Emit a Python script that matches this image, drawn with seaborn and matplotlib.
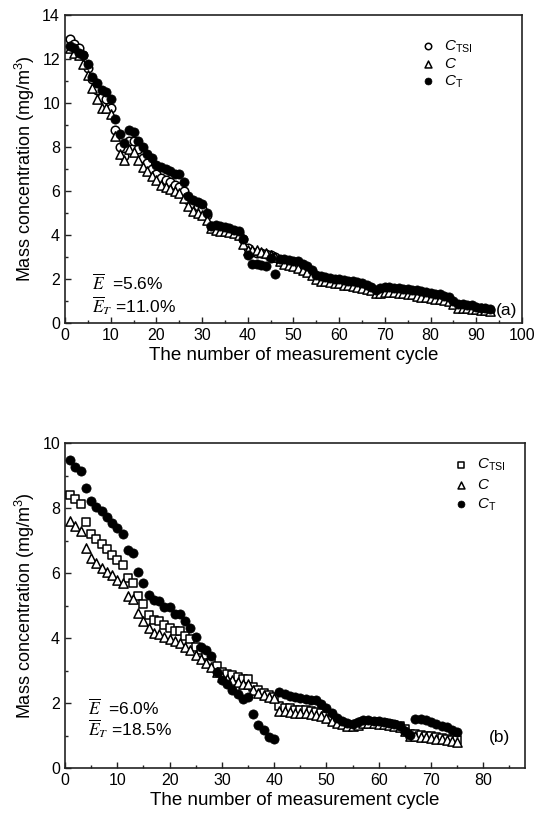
import numpy as np
import pandas as pd
import matplotlib
matplotlib.use("Agg")
import matplotlib.pyplot as plt
from matplotlib.ticker import MultipleLocator
import seaborn as sns

# ---- panel (a) data: 93 measurement cycles ----
cyc_a = list(range(1, 94))
ctsi_a = [12.9, 12.7, 12.5, 12.2, 11.6, 11.1, 10.6, 10.3, 10.2, 9.8,
          8.8, 8.0, 7.6, 8.3, 8.3, 7.9, 7.5, 7.3, 7.0, 6.8,
          6.6, 6.5, 6.4, 6.3, 6.2, 6.0, 5.6, 5.4, 5.3, 5.2,
          4.9, 4.4, 4.35, 4.3, 4.3, 4.25, 4.2, 4.1, 3.8, 3.4,
          3.25, 3.2, 3.2, 3.15, 3.1, 3.0, 2.8, 2.75, 2.7, 2.65,
          2.6, 2.5, 2.4, 2.3, 2.1, 2.0, 2.0, 1.95, 1.9, 1.9,
          1.85, 1.85, 1.8, 1.75, 1.7, 1.65, 1.6, 1.45, 1.5, 1.55,
          1.55, 1.5, 1.5, 1.45, 1.45, 1.4, 1.35, 1.35, 1.3, 1.3,
          1.25, 1.2, 1.15, 1.1, 0.9, 0.8, 0.8, 0.75, 0.75, 0.7,
          0.7, 0.65, 0.6]
c_a = [12.5, 12.3, 12.2, 11.8, 11.3, 10.7, 10.2, 9.8, 9.8, 9.5,
       8.5, 7.7, 7.4, 7.9, 7.8, 7.4, 7.1, 6.9, 6.7, 6.5,
       6.3, 6.2, 6.1, 6.0, 5.9, 5.7, 5.3, 5.1, 5.0, 4.9,
       4.7, 4.3, 4.25, 4.2, 4.2, 4.15, 4.1, 4.0, 3.6, 3.3,
       3.3, 3.3, 3.25, 3.2, 3.1, 3.0, 2.8, 2.7, 2.65, 2.6,
       2.5, 2.4, 2.3, 2.2, 2.0, 1.9, 1.9, 1.85, 1.8, 1.8,
       1.75, 1.75, 1.7, 1.65, 1.6, 1.55, 1.5, 1.35, 1.35, 1.4,
       1.4, 1.4, 1.35, 1.35, 1.3, 1.3, 1.25, 1.2, 1.2, 1.15,
       1.1, 1.1, 1.05, 1.0, 0.85, 0.7, 0.7, 0.7, 0.65, 0.65,
       0.6, 0.6, 0.55]
ct_a = [12.6, 12.5, 12.3, 12.2, 11.8, 11.2, 10.9, 10.6, 10.5, 10.2,
        9.3, 8.6, 8.2, 8.8, 8.7, 8.3, 8.0, 7.7, 7.5, 7.2,
        7.1, 7.0, 6.9, 6.8, 6.8, 6.4, 5.8, 5.6, 5.5, 5.4,
        5.0, 4.4, 4.45, 4.4, 4.35, 4.3, 4.25, 4.2, 3.8, 3.1,
        2.7, 2.7, 2.65, 2.6, 2.95, 2.25, 2.9, 2.9, 2.85, 2.8,
        2.8, 2.7, 2.6, 2.4, 2.2, 2.15, 2.1, 2.05, 2.0, 2.0,
        1.95, 1.9, 1.9, 1.85, 1.8, 1.75, 1.65, 1.5, 1.6, 1.65,
        1.65, 1.6, 1.6, 1.55, 1.55, 1.5, 1.5, 1.45, 1.4, 1.35,
        1.3, 1.3, 1.25, 1.2, 1.0, 0.85, 0.85, 0.8, 0.8, 0.75,
        0.7, 0.7, 0.65]

# ---- panel (b) data: 75 measurement cycles ----
cyc_b = list(range(1, 76))
ctsi_b = [8.41, 8.27, 8.12, 7.57, 7.2, 7.05, 6.9, 6.74, 6.56, 6.39,
          6.24, 5.86, 5.7, 5.29, 5.05, 4.7, 4.56, 4.53, 4.4, 4.32,
          4.22, 4.22, 4.07, 3.98, 3.73, 3.63, 3.49, 3.24, 3.15, 2.95,
          2.9, 2.85, 2.8, 2.75, 2.75, 2.5, 2.4, 2.3, 2.25, 2.2,
          1.9, 1.85, 1.85, 1.8, 1.8, 1.78, 1.75, 1.72, 1.7, 1.6,
          1.5, 1.45, 1.38, 1.33, 1.3, 1.35, 1.42, 1.42, 1.42, 1.4,
          1.38, 1.36, 1.33, 1.3, 1.2, 1.05, 1.05, 1.02, 1.0, 0.98,
          0.95, 0.92, 0.9, 0.87, 0.85]
c_b = [7.59, 7.46, 7.29, 6.76, 6.46, 6.32, 6.17, 6.02, 5.93, 5.78,
       5.68, 5.29, 5.2, 4.76, 4.53, 4.3, 4.17, 4.12, 4.04, 3.98,
       3.91, 3.85, 3.73, 3.63, 3.49, 3.36, 3.24, 3.1, 2.95, 2.8,
       2.75, 2.7, 2.65, 2.6, 2.6, 2.4, 2.3, 2.25, 2.2, 2.15,
       1.75, 1.75, 1.72, 1.7, 1.7, 1.68, 1.65, 1.62, 1.6, 1.55,
       1.45, 1.4, 1.35, 1.3, 1.28, 1.32, 1.4, 1.4, 1.38, 1.37,
       1.35, 1.32, 1.3, 1.25, 1.15, 1.0, 0.98, 0.96, 0.95, 0.93,
       0.9, 0.88, 0.85, 0.82, 0.8]
ct_b = [9.47, 9.27, 9.15, 8.61, 8.22, 8.04, 7.9, 7.71, 7.54, 7.39,
        7.2, 6.71, 6.61, 6.04, 5.68, 5.32, 5.18, 5.13, 4.95, 4.95,
        4.74, 4.74, 4.51, 4.3, 4.02, 3.73, 3.63, 3.44, 2.95, 2.71,
        2.58, 2.39, 2.27, 2.12, 2.19, 1.65, 1.31, 1.16, 0.96, 0.89,
        2.35, 2.28, 2.22, 2.18, 2.15, 2.12, 2.1, 2.08, 1.98, 1.85,
        1.7, 1.55, 1.45, 1.38, 1.35, 1.42, 1.48, 1.47, 1.46, 1.44,
        1.42, 1.4, 1.35, 1.28, 1.15, 1.02, 1.5, 1.5, 1.47, 1.42,
        1.37, 1.3, 1.25, 1.18, 1.1]

sns.set_theme(style="ticks")
plt.rcParams["font.family"] = ["Liberation Sans", "DejaVu Sans"]
plt.rcParams["mathtext.fontset"] = "custom"
plt.rcParams["mathtext.rm"] = "Liberation Sans"
plt.rcParams["mathtext.it"] = "Liberation Sans:italic"
plt.rcParams["xtick.direction"] = "in"
plt.rcParams["ytick.direction"] = "in"
plt.rcParams["text.color"] = "black"
plt.rcParams["axes.labelcolor"] = "black"
plt.rcParams["xtick.color"] = "black"
plt.rcParams["ytick.color"] = "black"

fig = plt.figure(figsize=(5.37, 8.25), dpi=100)
ax1 = fig.add_axes([0.121, 0.6085, 0.851, 0.373])
ax2 = fig.add_axes([0.121, 0.069, 0.857, 0.394])


def draw_panel(ax, x, ctsi, c, ct, tsi_marker):
    sns.scatterplot(x=x, y=ctsi, ax=ax, marker=tsi_marker, s=38,
                    facecolor="white", edgecolor="black", linewidth=1.1,
                    label=r"$C_{\mathrm{TSI}}$", zorder=3)
    sns.scatterplot(x=x, y=c, ax=ax, marker="^", s=44,
                    facecolor="white", edgecolor="black", linewidth=1.1,
                    label=r"$C$", zorder=3)
    sns.scatterplot(x=x, y=ct, ax=ax, marker="o", s=44,
                    color="black", edgecolor="black", linewidth=0.5,
                    label=r"$C_{\mathrm{T}}$", zorder=4)
    for sp in ax.spines.values():
        sp.set_linewidth(1.2)
        sp.set_color("#222222")
    ax.tick_params(which="major", length=4, width=1, labelsize=11.5,
                   color="#222222")
    ax.tick_params(which="minor", length=2.5, width=1, color="#222222")
    ax.set_ylabel("Mass concentration (mg/m$^3$)", fontsize=13)
    ax.set_xlabel("The number of measurement cycle", fontsize=13.5, labelpad=3)


draw_panel(ax1, cyc_a, ctsi_a, c_a, ct_a, "o")
ax1.set_xlim(0, 100)
ax1.set_ylim(0, 14)
ax1.xaxis.set_major_locator(MultipleLocator(10))
ax1.xaxis.set_minor_locator(MultipleLocator(5))
ax1.yaxis.set_major_locator(MultipleLocator(2))
ax1.yaxis.set_minor_locator(MultipleLocator(1))
ax1.legend(loc="upper left", bbox_to_anchor=(0.74, 0.97), frameon=False,
           fontsize=11, markerscale=0.75, handletextpad=0.3,
           labelspacing=0.15, handlelength=1.5)
ax1.text(0.06, 0.13, r"$\overline{E}$  =5.6%", transform=ax1.transAxes,
         fontsize=12.5, math_fontfamily="stix", va="center")
ax1.text(0.06, 0.055, r"$\overline{E}_T$ =11.0%", transform=ax1.transAxes,
         fontsize=12.5, math_fontfamily="stix", va="center")
ax1.text(0.99, 0.04, "(a)", transform=ax1.transAxes, fontsize=12.5,
         ha="right", va="center")

draw_panel(ax2, cyc_b, ctsi_b, c_b, ct_b, "s")
ax2.set_xlim(0, 88)
ax2.set_ylim(0, 10)
ax2.set_xticks(np.arange(0, 81, 10))
ax2.xaxis.set_minor_locator(MultipleLocator(5))
ax2.yaxis.set_major_locator(MultipleLocator(2))
ax2.yaxis.set_minor_locator(MultipleLocator(1))
ax2.legend(loc="upper left", bbox_to_anchor=(0.805, 1.0), frameon=False,
           fontsize=11, markerscale=0.75, handletextpad=0.3,
           labelspacing=0.3, handlelength=1.5)
ax2.text(0.05, 0.185, r"$\overline{E}$  =6.0%", transform=ax2.transAxes,
         fontsize=12.5, math_fontfamily="stix", va="center")
ax2.text(0.05, 0.12, r"$\overline{E}_T$ =18.5%", transform=ax2.transAxes,
         fontsize=12.5, math_fontfamily="stix", va="center")
ax2.text(0.945, 0.095, "(b)", transform=ax2.transAxes, fontsize=12.5,
         ha="center", va="center")

fig.savefig("out.png", dpi=100)
